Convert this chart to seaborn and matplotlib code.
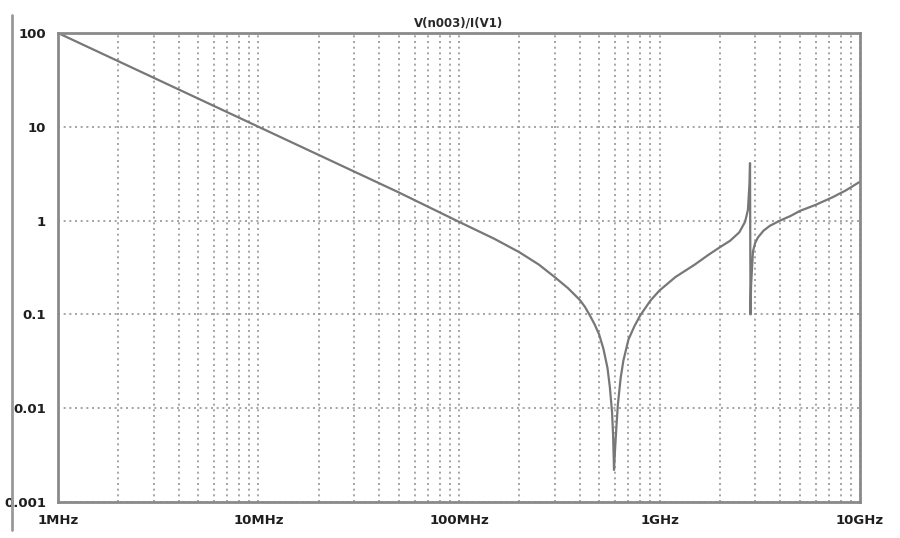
import numpy as np
import pandas as pd
import seaborn as sns
import matplotlib.pyplot as plt
from matplotlib.lines import Line2D
from matplotlib.ticker import LogLocator, NullFormatter

# Impedance magnitude (frequency in MHz, |Z| in ohm)
freq_mhz = [1, 2, 5, 10, 20, 50, 100, 150, 200, 250, 300, 350, 400, 425, 450,
            475, 500, 525, 550, 565, 580, 587, 593, 600, 610, 620, 640, 660,
            700, 750, 800, 900, 1000, 1200, 1500, 1750, 2000, 2250, 2500, 2670,
            2760, 2810, 2827, 2843, 2860, 2890, 2925, 3000, 3095, 3300, 3550,
            3990, 4500, 5020, 6000, 7320, 8500, 10000]
impedance = [100, 50, 20, 10, 5.0, 2.0, 0.97, 0.64, 0.46, 0.34, 0.25, 0.19,
             0.143, 0.12, 0.097, 0.078, 0.061, 0.043, 0.027, 0.017, 0.009,
             0.005, 0.0022, 0.0036, 0.0065, 0.011, 0.021, 0.032, 0.054, 0.075,
             0.097, 0.14, 0.18, 0.25, 0.34, 0.43, 0.52, 0.61, 0.75, 0.97, 1.3,
             2.5, 4.1, 0.1, 0.2, 0.3, 0.47, 0.58, 0.66, 0.78, 0.88, 1.0, 1.12,
             1.27, 1.47, 1.78, 2.1, 2.6]

x_ticks = [1, 10, 100, 1000, 10000]
x_labels = ["1MHz", "10MHz", "100MHz", "1GHz", "10GHz"]
y_ticks = [0.001, 0.01, 0.1, 1, 10, 100]
y_labels = ["0.001", "0.01", "0.1", "1", "10", "100"]

df = pd.DataFrame({"freq": freq_mhz, "z": impedance})

sns.set_style("white")
plt.rcParams['font.family'] = ['DejaVu Sans']

fig = plt.figure(figsize=(9, 5.38), dpi=100)
ax = fig.add_axes([0.0644, 0.0669, 0.8912, 0.8718])

sns.lineplot(data=df, x="freq", y="z", ax=ax, color="#777777", lw=1.6,
             estimator=None, sort=False)

ax.set_xscale("log")
ax.set_yscale("log")
ax.set_xlim(1, 10000)
ax.set_ylim(0.001, 100)

grid_kw = dict(color="#969696", linestyle=(0, (1.2, 2.2)), linewidth=1.2)
ax.set_xticks(x_ticks, x_labels)
ax.set_yticks(y_ticks, y_labels)
ax.xaxis.set_minor_locator(LogLocator(base=10, subs=np.arange(2, 10)))
ax.yaxis.set_minor_locator(LogLocator(base=10, subs=np.arange(2, 10)))
ax.xaxis.set_minor_formatter(NullFormatter())
ax.yaxis.set_minor_formatter(NullFormatter())
ax.grid(True, which="major", axis="both", **grid_kw)
ax.grid(True, which="minor", axis="x", **grid_kw)

ax.tick_params(axis="both", which="major", length=5, width=1.2, color="#777777",
               labelsize=9.5, labelcolor="#1e1e1e")
ax.tick_params(axis="both", which="minor", length=3, width=1, color="#777777",
               direction="in")
for lab in ax.get_xticklabels() + ax.get_yticklabels():
    lab.set_fontweight("bold")

for s in ax.spines.values():
    s.set_color("#8a8a8a")
    s.set_linewidth(2)

ax.set_xlabel("")
ax.set_ylabel("")
ax.set_title("V(n003)/I(V1)", fontsize=8.5, fontweight="bold", color="#2a2a2a", pad=5)

# window border on the left
fig.add_artist(Line2D([12 / 900, 12 / 900], [8 / 538, 523 / 538],
                      transform=fig.transFigure, color="#999999", lw=2))

fig.savefig("out.png", dpi=100)
